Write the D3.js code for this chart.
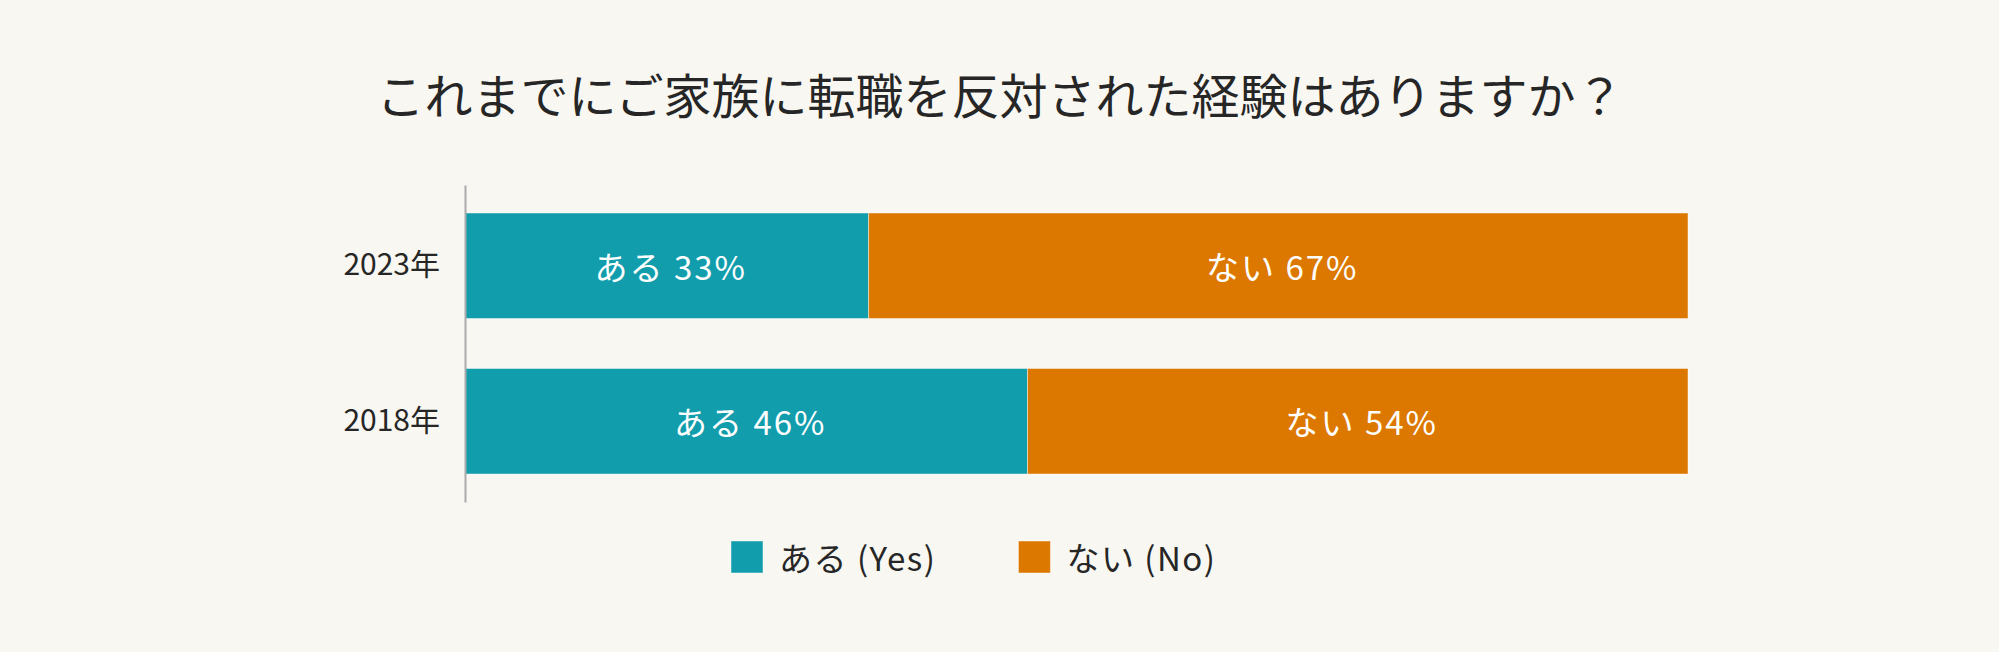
<!DOCTYPE html>
<html><head><meta charset="utf-8">
<script src="https://cdn.jsdelivr.net/npm/d3@7"></script>
<style>
html,body{margin:0;padding:0;background:#f8f7f2;}
svg{display:block;}
text{font-family:"Noto Sans CJK JP","Noto Sans",sans-serif;}
</style></head>
<body>
<svg id="chart" width="1999" height="652"></svg>
<script>
const title = "これまでにご家族に転職を反対された経験はありますか？";
const years = ["2023年", "2018年"];
const seriesNames = ["ある", "ない"];
const legendLabels = ["ある (Yes)", "ない (No)"];
const yesValues = [33, 46];
const noValues = [67, 54];
const colors = ["#129dad", "#dc7800"];

const svg = d3.select("#chart");
svg.append("rect").attr("width",1999).attr("height",652).attr("fill","#f8f7f2");

svg.append("text").attr("x",1000).attr("y",93)
  .attr("text-anchor","middle").attr("dominant-baseline","central")
  .attr("font-size",48).attr("fill","#262626").text(title);

const x = d3.scaleLinear().domain([0,100]).range([465,1688]);
const y = d3.scaleBand().domain(years).range([185,502]).paddingInner(0.3215).paddingOuter(0.18);

const rows = years.map((yr,i)=>({year:yr, segs:[
  {name:seriesNames[0], v0:0, v1:yesValues[i], v:yesValues[i], c:colors[0]},
  {name:seriesNames[1], v0:yesValues[i], v1:yesValues[i]+noValues[i], v:noValues[i], c:colors[1]}
]}));

const g = svg.append("g");
const rowG = g.selectAll("g.row").data(rows).join("g").attr("class","row");
rowG.selectAll("rect").data(d=>d.segs.map(s=>({...s, year:d.year}))).join("rect")
  .attr("x",d=>x(d.v0)).attr("width",d=>x(d.v1)-x(d.v0))
  .attr("y",d=>y(d.year)).attr("height",y.bandwidth())
  .attr("fill",d=>d.c).attr("stroke","rgba(255,255,255,0.45)").attr("stroke-width",1);
rowG.selectAll("text").data(d=>d.segs.map(s=>({...s, year:d.year}))).join("text")
  .attr("x",d=>(x(d.v0)+x(d.v1))/2 + 4).attr("y",d=>y(d.year)+y.bandwidth()/2)
  .attr("text-anchor","middle").attr("dominant-baseline","central")
  .attr("font-size",33).attr("letter-spacing","2px").attr("fill","#ffffff")
  .text(d=>`${d.name} ${d.v}%`);

// y axis
const yAxis = d3.axisLeft(y).tickSize(0).tickPadding(25);
const ya = svg.append("g").attr("transform",`translate(${x(0)},0)`).call(yAxis);
ya.select(".domain").attr("stroke","#aaaaaa").attr("stroke-width",2);
ya.selectAll("text").attr("font-size",30).attr("fill","#262626")
  .attr("font-family",'"Noto Sans CJK JP",sans-serif');

// legend
const leg = svg.append("g").attr("transform","translate(731,541)");
let lx = 0;
legendLabels.forEach((lab,i)=>{
  const it = leg.append("g").attr("transform",`translate(${lx},0)`);
  it.append("rect").attr("width",32).attr("height",32).attr("fill",colors[i])
    .attr("stroke","rgba(255,255,255,0.45)");
  const t = it.append("text").attr("x",48).attr("y",16).attr("dominant-baseline","central")
    .attr("font-size",33).attr("letter-spacing","1.5px").attr("fill","#262626").text(lab);
  lx += 48 + t.node().getComputedTextLength() + 82;
});
</script>
</body></html>
